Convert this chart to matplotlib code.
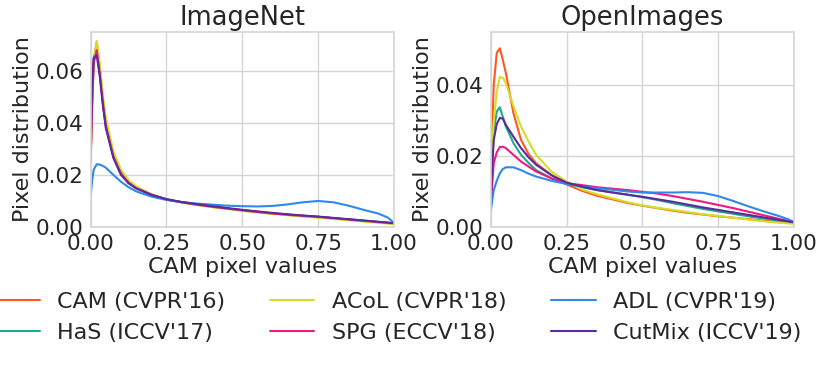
import matplotlib
matplotlib.use("Agg")
import matplotlib.pyplot as plt
import seaborn as sns

# CAM pixel value grid (x positions of the read-off points)
x_vals = [0, 0.005, 0.01, 0.02, 0.03, 0.04, 0.05, 0.075, 0.1, 0.125, 0.15, 0.2, 0.25, 0.3, 0.35,
          0.4, 0.45, 0.5, 0.55, 0.6, 0.65, 0.7, 0.75, 0.8, 0.85, 0.9, 0.95, 0.98, 1.0]

methods = ["CAM (CVPR'16)", "HaS (ICCV'17)", "ACoL (CVPR'18)",
           "SPG (ECCV'18)", "ADL (CVPR'19)", "CutMix (ICCV'19)"]
colors = ["#ff5722", "#1fa88e", "#d2df25", "#ec1c7f", "#2f88ea", "#5b2a9c"]

# ImageNet pixel distributions
imagenet_cam = [0.027, 0.048, 0.064, 0.0712, 0.061, 0.049, 0.040, 0.0275, 0.021, 0.0173, 0.0152, 0.0125, 0.0106, 0.0095, 0.0086,
                0.0078, 0.0071, 0.0064, 0.0058, 0.0052, 0.0047, 0.0042, 0.0038, 0.0033, 0.0028, 0.0023, 0.0018, 0.0015, 0.0013]
imagenet_has = [0.028, 0.050, 0.065, 0.069, 0.060, 0.048, 0.039, 0.027, 0.0205, 0.017, 0.015, 0.0124, 0.0106, 0.0095, 0.0086,
                0.0078, 0.0071, 0.0064, 0.0058, 0.0052, 0.0047, 0.0043, 0.0039, 0.0034, 0.0029, 0.0024, 0.0019, 0.0016, 0.0014]
imagenet_acol = [0.026, 0.047, 0.063, 0.0715, 0.063, 0.051, 0.042, 0.029, 0.022, 0.018, 0.0156, 0.0126, 0.0106, 0.0094, 0.0084,
                 0.0076, 0.0069, 0.0062, 0.0056, 0.0050, 0.0045, 0.0040, 0.0036, 0.0031, 0.0026, 0.0021, 0.0016, 0.0013, 0.0011]
imagenet_spg = [0.025, 0.047, 0.063, 0.068, 0.059, 0.048, 0.039, 0.027, 0.0205, 0.017, 0.015, 0.0124, 0.0106, 0.0095, 0.0086,
                0.0078, 0.0071, 0.0064, 0.0058, 0.0052, 0.0047, 0.0043, 0.0039, 0.0034, 0.0029, 0.0024, 0.0019, 0.0016, 0.0014]
imagenet_adl = [0.0123, 0.018, 0.022, 0.0241, 0.024, 0.0235, 0.0228, 0.020, 0.0174, 0.0153, 0.0137, 0.0117, 0.0104, 0.0096, 0.0090,
                0.0086, 0.0082, 0.0080, 0.0079, 0.0081, 0.0087, 0.0095, 0.0100, 0.0095, 0.0082, 0.0066, 0.0051, 0.0036, 0.0016]
imagenet_cutmix = [0.030, 0.055, 0.065, 0.066, 0.058, 0.047, 0.038, 0.0265, 0.020, 0.0168, 0.0148, 0.0124, 0.0107, 0.0096, 0.0088,
                   0.0080, 0.0073, 0.0066, 0.0060, 0.0054, 0.0049, 0.0044, 0.0040, 0.0035, 0.0030, 0.0025, 0.0020, 0.0017, 0.0015]

# OpenImages pixel distributions
openimages_cam = [0.0142, 0.028, 0.040, 0.049, 0.0503, 0.047, 0.0433, 0.032, 0.0245, 0.0205, 0.0179, 0.0146, 0.0120, 0.0102, 0.0088,
                  0.0078, 0.0068, 0.0060, 0.0053, 0.0046, 0.0040, 0.0035, 0.0030, 0.0026, 0.0022, 0.0018, 0.0014, 0.0012, 0.0011]
openimages_has = [0.0067, 0.018, 0.027, 0.0325, 0.0337, 0.031, 0.0283, 0.0236, 0.0203, 0.018, 0.016, 0.0137, 0.0121, 0.0112, 0.0104,
                  0.0098, 0.0091, 0.0084, 0.0076, 0.0067, 0.0059, 0.0051, 0.0044, 0.0037, 0.0030, 0.0024, 0.0018, 0.0015, 0.0013]
openimages_acol = [0.012, 0.022, 0.030, 0.038, 0.0422, 0.042, 0.0405, 0.034, 0.0283, 0.024, 0.0203, 0.0156, 0.0128, 0.0106, 0.0092,
                   0.0081, 0.0070, 0.0061, 0.0054, 0.0048, 0.0042, 0.0036, 0.0031, 0.0026, 0.0021, 0.0016, 0.0012, 0.0010, 0.0009]
openimages_spg = [0.0057, 0.012, 0.018, 0.021, 0.0225, 0.0226, 0.0222, 0.0203, 0.0184, 0.017, 0.0156, 0.0137, 0.0123, 0.0118, 0.0112,
                  0.0108, 0.0104, 0.0099, 0.0094, 0.0087, 0.0079, 0.0071, 0.0062, 0.0053, 0.0043, 0.0033, 0.0023, 0.0017, 0.0013]
openimages_adl = [0.0043, 0.0075, 0.0104, 0.013, 0.0151, 0.0163, 0.0168, 0.0168, 0.016, 0.015, 0.0142, 0.013, 0.0121, 0.0114, 0.0109,
                  0.0105, 0.0100, 0.0097, 0.0097, 0.0097, 0.0098, 0.0096, 0.0087, 0.0073, 0.0058, 0.0044, 0.0031, 0.0022, 0.0014]
openimages_cutmix = [0.0067, 0.017, 0.0245, 0.029, 0.0307, 0.0305, 0.0287, 0.0254, 0.0222, 0.0196, 0.0175, 0.0146, 0.0125, 0.0114, 0.0104,
                     0.0097, 0.0091, 0.0085, 0.0078, 0.0071, 0.0063, 0.0055, 0.0048, 0.0041, 0.0034, 0.0027, 0.0020, 0.0016, 0.0013]

imagenet = [imagenet_cam, imagenet_has, imagenet_acol, imagenet_spg, imagenet_adl, imagenet_cutmix]
openimages = [openimages_cam, openimages_has, openimages_acol, openimages_spg, openimages_adl, openimages_cutmix]

sns.set_style("whitegrid")
plt.rcParams['font.family'] = ['DejaVu Sans']
plt.rcParams['text.color'] = '#262626'
plt.rcParams['axes.labelcolor'] = '#262626'
plt.rcParams['xtick.color'] = '#262626'
plt.rcParams['ytick.color'] = '#262626'

fig = plt.figure(figsize=(8.31, 3.66), dpi=100)
ax1 = fig.add_axes([0.1091, 0.3798, 0.365, 0.533])
ax2 = fig.add_axes([0.5905, 0.3798, 0.365, 0.533])

for ax, data, title, ymax, yticks in [
        (ax1, imagenet, "ImageNet", 0.075, [0.0, 0.02, 0.04, 0.06]),
        (ax2, openimages, "OpenImages", 0.0549, [0.0, 0.02, 0.04])]:
    for values, label, c in zip(data, methods, colors):
        ax.plot(x_vals, values, color=c, lw=1.5, label=label)
    ax.set_xlim(0, 1)
    ax.set_ylim(0, ymax)
    ax.set_xticks([0, 0.25, 0.5, 0.75, 1.0])
    ax.set_xticklabels(["0.00", "0.25", "0.50", "0.75", "1.00"])
    ax.set_yticks(yticks)
    ax.set_yticklabels(["%.2f" % t for t in yticks])
    ax.tick_params(labelsize=15.5, length=0, pad=5)
    ax.set_title(title, fontsize=18.5, pad=5)
    ax.set_xlabel("CAM pixel values", fontsize=16, labelpad=2)
    ax.set_ylabel("Pixel distribution", fontsize=16, labelpad=2)
    ax.grid(True, color='#d5d5d5', lw=1)
    for s in ax.spines.values():
        s.set_color('#d5d5d5')
        s.set_linewidth(1.2)

handles, labels = ax1.get_legend_handles_labels()
fig.legend(handles, labels, loc='center left', bbox_to_anchor=(-0.030, 0.132), ncol=3,
           frameon=False, fontsize=16)

fig.savefig("out.png", dpi=100)
